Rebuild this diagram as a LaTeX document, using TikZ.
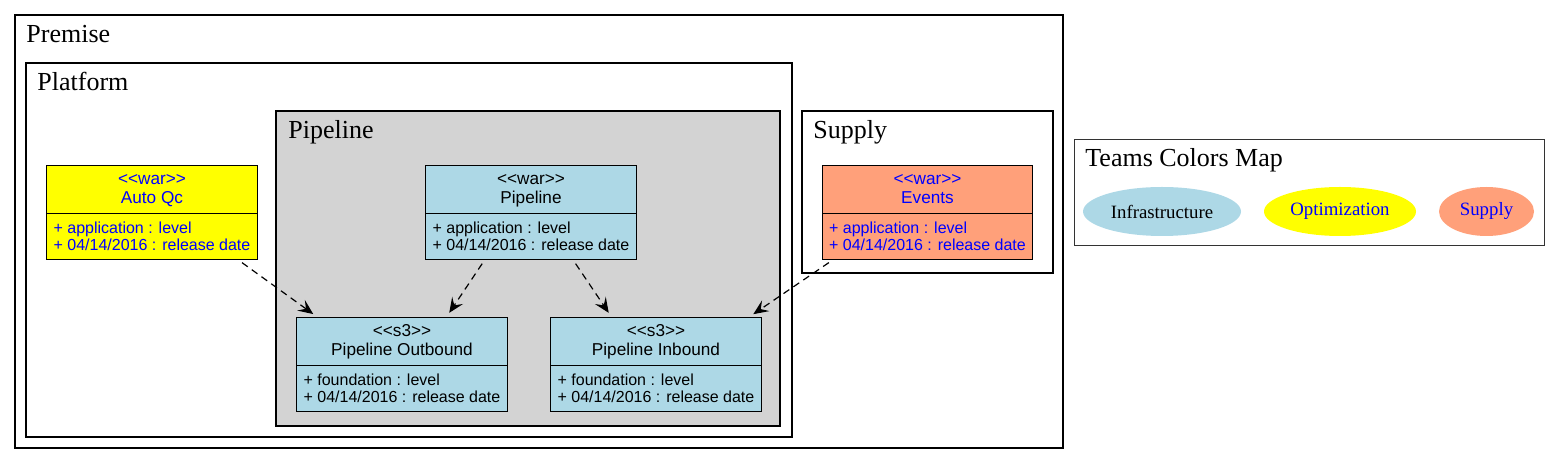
\documentclass[tikz,border=0pt]{standalone}
\usepackage{fontspec}
\setmainfont{Liberation Serif}
\newfontfamily\umlfont{Liberation Sans}
\usetikzlibrary{shapes.multipart,shapes.geometric,arrows.meta,calc}
\definecolor{infra}{HTML}{ADD8E6}
\definecolor{optim}{HTML}{FFFF00}
\definecolor{supply}{HTML}{FFA07A}
\definecolor{pipegray}{HTML}{D3D3D3}
\definecolor{teamblue}{HTML}{0000FF}
\newcommand{\umlhead}[2]{{\fontsize{8.6}{9.2}\selectfont\begin{tabular}{@{}c@{}}\rule{0pt}{7.6pt}\textless\textless #1\textgreater\textgreater\\#2\end{tabular}}}
\newcommand{\umlattrs}[1]{{\fontsize{8}{7.85}\selectfont\begin{tabular}{@{}l@{}}\rule{0pt}{8.1pt}+ #1 : level\\+ 04/14/2016 : release date\rule[-2.75pt]{0pt}{2.75pt}\end{tabular}}}
\begin{document}
\begin{tikzpicture}[x=0.5pt,y=-0.5pt,
    cluster/.style={draw,line width=1pt},
    clusterlabel/.style={anchor=base west,inner sep=0pt,font=\fontsize{13}{15}\selectfont},
    umlclass/.style={rectangle split,rectangle split parts=2,draw,line width=0.5pt,anchor=north,
      minimum width=104pt,inner xsep=3.5pt,inner ysep=1.9pt,rectangle split part align={center,left},
      font=\umlfont},
    team/.style={ellipse,inner sep=0pt,minimum height=24.5pt,font=\fontsize{9.4}{11}\selectfont},
    dep/.style={draw,line width=0.6pt,dash pattern=on 3.5pt off 2.5pt,
      -{Stealth[length=7.5pt,width=6.5pt,inset=3pt]},shorten <=2pt,shorten >=2.5pt}]
  \useasboundingbox (0,0) rectangle (1560,464);
  % clusters
  \draw[cluster] (15,15) rectangle (1063,448);
  \draw[cluster] (26,63) rectangle (792,437);
  \draw[cluster,fill=pipegray] (276,111) rectangle (780,426);
  \draw[cluster] (802,111) rectangle (1053,273);
  \draw[line width=0.5pt,black!80] (1074,140) rectangle (1544,246);
  \node[clusterlabel] (premiselbl) at (26,42.5) {Premise};
  \node[clusterlabel] (platformlbl) at (37,90.5) {Platform};
  \node[clusterlabel] (pipelinelbl) at (288,138.5) {Pipeline};
  \node[clusterlabel] (supplylbl) at (813,138.5) {Supply};
  \node[clusterlabel] (legendlbl) at (1085,166.5) {Teams Colors Map};
  % classes
  \node[umlclass,fill=optim,text=teamblue] (autoqc) at (152,165)
    {\umlhead{war}{Auto Qc}\nodepart{two}\umlattrs{application}};
  \node[umlclass,fill=infra] (pipeline) at (531,165)
    {\umlhead{war}{Pipeline}\nodepart{two}\umlattrs{application}};
  \node[umlclass,fill=supply,text=teamblue] (events) at (927.5,165)
    {\umlhead{war}{Events}\nodepart{two}\umlattrs{application}};
  \node[umlclass,fill=infra] (outbound) at (402,317)
    {\umlhead{s3}{Pipeline Outbound}\nodepart{two}\umlattrs{foundation}};
  \node[umlclass,fill=infra] (inbound) at (656,317)
    {\umlhead{s3}{Pipeline Inbound}\nodepart{two}\umlattrs{foundation}};
  % legend
  \node[team,fill=infra,minimum width=79pt] (infrakey) at (1162,211.5) {Infrastructure};
  \node[team,fill=optim,minimum width=76pt,text=teamblue] (optimkey) at (1340,211.5) {Optimization};
  \node[team,fill=supply,minimum width=47.5pt,text=teamblue] (supplykey) at (1486.5,211.5) {Supply};
  % dependencies
  \draw[dep] ($(autoqc.south west)!.91!(autoqc.south east)$) -- ($(outbound.north west)!.1!(outbound.north east)$);
  \draw[dep] ($(pipeline.south west)!.28!(pipeline.south east)$) -- ($(outbound.north west)!.71!(outbound.north east)$);
  \draw[dep] ($(pipeline.south west)!.7!(pipeline.south east)$) -- ($(inbound.north west)!.29!(inbound.north east)$);
  \draw[dep] ($(events.south west)!.05!(events.south east)$) -- ($(inbound.north west)!.94!(inbound.north east)$);
\end{tikzpicture}
\end{document}
